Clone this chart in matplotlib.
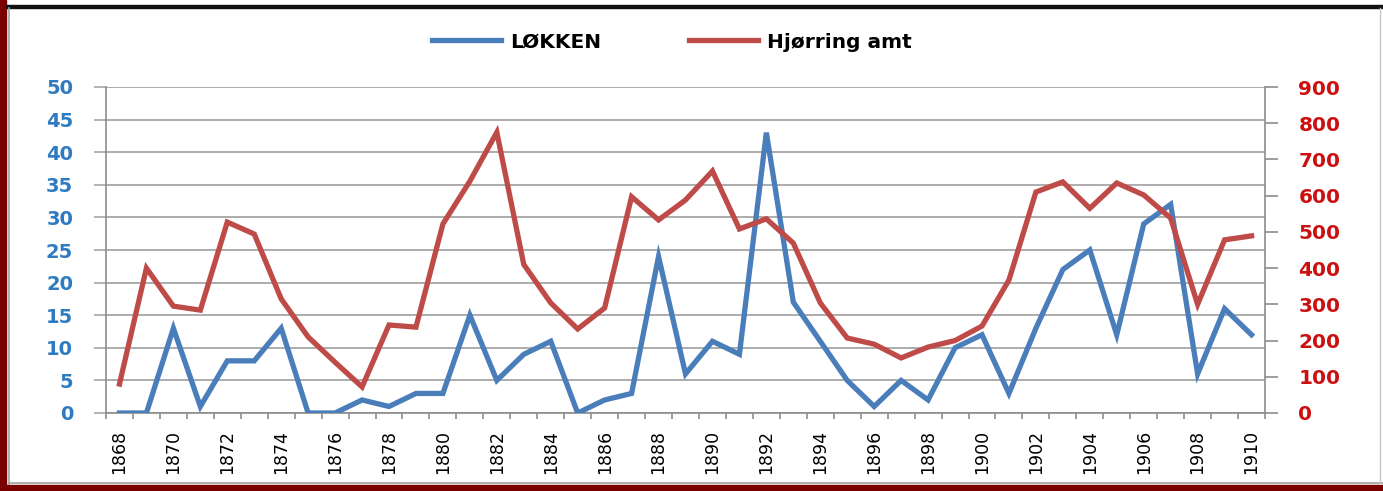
import matplotlib
matplotlib.use("Agg")
import matplotlib.pyplot as plt
from matplotlib.lines import Line2D
from matplotlib.patches import Rectangle

years = list(range(1868, 1911))
lokken = [0, 0, 13, 1, 8, 8, 13, 0, 0, 2, 1, 3, 3, 15, 5, 9, 11, 0, 2, 3,
          24, 6, 11, 9, 43, 17, 11, 5, 1, 5, 2, 10, 12, 3, 13, 22, 25, 12, 29, 32,
          6, 16, 12]
hjorring = [80, 400, 295, 284, 527, 494, 315, 210, 140, 72, 243, 237, 522, 640,
            775, 410, 304, 232, 290, 597, 533, 588, 668, 508, 536, 469, 304, 207,
            190, 152, 182, 200, 240, 367, 610, 638, 565, 635, 602, 538, 300, 478, 489]
left_ticks = [0, 5, 10, 15, 20, 25, 30, 35, 40, 45, 50]
right_ticks = [0, 100, 200, 300, 400, 500, 600, 700, 800, 900]
label_years = years[::2]

W, H = 1383, 491
fig = plt.figure(figsize=(W / 100, H / 100), dpi=100, facecolor="white")

def px(x0, y0, x1, y1):
    return [x0 / W, 1 - y1 / H, (x1 - x0) / W, (y1 - y0) / H]

ax = fig.add_axes(px(106, 87, 1265, 413))
ax2 = ax.twinx()

blue = "#4A7EBB"
red = "#BE4B48"
grid = "#A6A6A6"

ax.plot(years, lokken, color=blue, lw=3.8, solid_joinstyle="miter", zorder=3)
ax2.plot(years, hjorring, color=red, lw=3.8, solid_joinstyle="miter", zorder=3)

ax.set_xlim(1867.5, 1910.5)
ax.set_ylim(0, 50)
ax2.set_ylim(0, 900)

ax.set_yticks(left_ticks)
ax2.set_yticks(right_ticks)
ax.yaxis.grid(True, color=grid, lw=1.3)
ax.set_axisbelow(True)

ax.spines["top"].set_visible(False)
ax2.spines["top"].set_visible(False)
ax2.spines["left"].set_visible(False)
ax2.spines["bottom"].set_visible(False)
ax.spines["right"].set_visible(False)
for sp in [ax.spines["left"], ax.spines["bottom"], ax2.spines["right"]]:
    sp.set_color("#8C8C8C")
    sp.set_linewidth(1.2)

ax.tick_params(axis="y", length=8.6, width=1.2, color=grid, pad=15,
               labelsize=14, labelcolor="#2F7BC1")
ax2.tick_params(axis="y", length=9, width=1.2, color="#8C8C8C", pad=15,
                labelsize=14.5, labelcolor="#CC1010")
for lab in ax.get_yticklabels():
    lab.set_fontweight("bold")
for lab in ax2.get_yticklabels():
    lab.set_fontweight("bold")

ax.set_xticks(label_years)
ax.set_xticklabels([str(y) for y in label_years], rotation=90, fontsize=12.5,
                   family="DejaVu Sans")
ax.set_xticks([y + 0.5 for y in [years[0] - 1] + years], minor=True)
ax.tick_params(axis="x", which="major", length=0, pad=12)
ax.tick_params(axis="x", which="minor", length=4, width=1.2, color="#8C8C8C")

handles = [Line2D([], [], color=blue, lw=3.8), Line2D([], [], color=red, lw=3.8)]
fig.legend(handles, ["LØKKEN", "Hjørring amt"], loc="center",
           bbox_to_anchor=(672 / W, 1 - 42 / H), ncol=2, frameon=False,
           handlelength=3.4, handletextpad=0.45, columnspacing=4.4,
           prop={"family": "DejaVu Sans", "weight": "bold", "size": 14.5})

# frame decoration
fig.patches.append(Rectangle((0, 0), 6 / W, 1, transform=fig.transFigure,
                             color="#7A0000", zorder=0))
fig.patches.append(Rectangle((0, 0), 1, 6 / H, transform=fig.transFigure,
                             color="#7A0000", zorder=0))
fig.patches.append(Rectangle((6 / W, 1 - 8 / H), 1, 2.5 / H, transform=fig.transFigure,
                             color="#111111", zorder=0))
fig.lines.append(Line2D([8.5 / W, 8.5 / W], [7 / H, 1 - 8 / H], transform=fig.transFigure,
                        color="#A0A0A0", lw=1.2))
fig.lines.append(Line2D([8.5 / W, 1], [8 / H, 8 / H], transform=fig.transFigure,
                        color="#A0A0A0", lw=1.2))
fig.lines.append(Line2D([1380 / W, 1380 / W], [8 / H, 1 - 8 / H], transform=fig.transFigure,
                        color="#C8C8C8", lw=1.0))

fig.savefig("out.png", dpi=100, facecolor="white")
